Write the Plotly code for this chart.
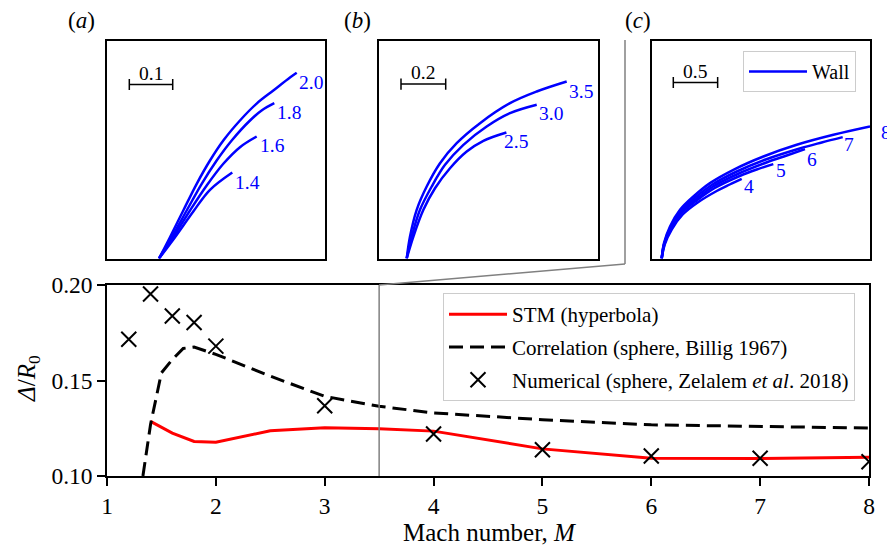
import plotly.graph_objects as go

# ---------------- data: main chart ----------------
mach_stm = [1.4, 1.6, 1.8, 2.0, 2.5, 3.0, 3.5, 4.0, 5.0, 6.0, 7.0, 8.0]
delta_stm = [0.1286, 0.1225, 0.1181, 0.1177, 0.1237, 0.1253, 0.1248, 0.1235, 0.1142, 0.1093, 0.1092, 0.1098]

mach_corr = [1.33, 1.4, 1.5, 1.6, 1.7, 1.8, 2.0, 2.5, 3.0, 3.5, 4.0, 5.0, 6.0, 7.0, 8.0]
delta_corr = [0.100, 0.127, 0.154, 0.161, 0.1668, 0.1675, 0.1637, 0.1523, 0.1417, 0.1365, 0.1330, 0.1295, 0.1268, 0.1260, 0.1251]

mach_num = [1.2, 1.4, 1.6, 1.8, 2.0, 3.0, 4.0, 5.0, 6.0, 7.0, 8.0]
delta_num = [0.1716, 0.1953, 0.1838, 0.1804, 0.1680, 0.1368, 0.1220, 0.1137, 0.1105, 0.1093, 0.1075]

x_ticks = [1, 2, 3, 4, 5, 6, 7, 8]
y_ticks = [0.10, 0.15, 0.20]
zoom_mach = 3.5

# ---------------- data: wall shapes (panel a) ----------------
wall_a_labels = ["2.0", "1.8", "1.6", "1.4"]
wall_a_x = [
    [0, 0.0253, 0.0560, 0.0869, 0.1175, 0.1482, 0.1866, 0.2251, 0.2634, 0.3018, 0.3173],
    [0, 0.0293, 0.0638, 0.0984, 0.1329, 0.1675, 0.2097, 0.2380, 0.2657],
    [0, 0.0329, 0.0714, 0.1099, 0.1482, 0.1866, 0.2251],
    [0, 0.0369, 0.0790, 0.1175, 0.1689],
]
wall_a_y = [
    [0, 0.0491, 0.1106, 0.1721, 0.2258, 0.2719, 0.3180, 0.3570, 0.3871, 0.4170, 0.4279],
    [0, 0.0491, 0.1106, 0.1721, 0.2258, 0.2719, 0.3180, 0.3420, 0.3578],
    [0, 0.0491, 0.1106, 0.1682, 0.2182, 0.2565, 0.2811],
    [0, 0.0491, 0.1083, 0.1583, 0.1982],
]
label_a_pos = [(0.3187, 0.4062), (0.2673, 0.3371), (0.2288, 0.2604), (0.1698, 0.1758)]
scale_a = 0.1

# ---------------- data: wall shapes (panel b) ----------------
wall_b_labels = ["3.5", "3.0", "2.5"]
wall_b_x = [
    [0, 0.0148, 0.0447, 0.0895, 0.1490, 0.2237, 0.3280, 0.4622, 0.5817, 0.7159],
    [0, 0.0224, 0.0595, 0.1119, 0.1714, 0.2537, 0.3579, 0.4622, 0.5817],
    [0, 0.0300, 0.0747, 0.1266, 0.1937, 0.2685, 0.3432, 0.4461],
]
wall_b_y = [
    [0, 0.0984, 0.2179, 0.3221, 0.4264, 0.5159, 0.6054, 0.6949, 0.7472, 0.7919],
    [0, 0.0984, 0.2179, 0.3221, 0.4192, 0.5087, 0.5906, 0.6501, 0.6877],
    [0, 0.0984, 0.2179, 0.3145, 0.4040, 0.4787, 0.5266, 0.5638],
]
label_b_pos = [(0.7186, 0.7472), (0.5817, 0.6506), (0.4251, 0.5235)]
scale_b = 0.2

# ---------------- data: wall shapes (panel c) ----------------
wall_c_labels = ["8", "7", "6", "5", "4"]
wall_c_x = [
    [0, 0.0259, 0.0936, 0.2063, 0.3574, 0.5445, 0.8083, 1.1466, 1.5220, 1.9357, 2.3484],
    [0, 0.0282, 0.0970, 0.2142, 0.3720, 0.5637, 0.8343, 1.1725, 1.5558, 1.8038, 2.0406],
    [0, 0.0293, 0.1015, 0.2198, 0.3833, 0.5806, 0.8568, 1.1950, 1.4092, 1.6155],
    [0, 0.0316, 0.1060, 0.2255, 0.3946, 0.5975, 0.8794, 1.0710, 1.2582],
    [0, 0.0338, 0.1127, 0.2368, 0.4059, 0.6201, 0.7666, 0.9019],
]
wall_c_y = [
    [0, 0.1736, 0.3608, 0.5490, 0.6990, 0.8501, 1.0000, 1.1499, 1.2818, 1.3946, 1.4882],
    [0, 0.1691, 0.3495, 0.5355, 0.6821, 0.8286, 0.9752, 1.1161, 1.2401, 1.3078, 1.3687],
    [0, 0.1669, 0.3439, 0.5242, 0.6652, 0.8117, 0.9526, 1.0879, 1.1612, 1.2334],
    [0, 0.1635, 0.3382, 0.5130, 0.6539, 0.7948, 0.9301, 1.0034, 1.0643],
    [0, 0.1578, 0.3269, 0.4961, 0.6313, 0.7610, 0.8343, 0.8985],
]
label_c_pos = [(2.4498, 1.4171), (2.0293, 1.2818), (1.6156, 1.1206), (1.2661, 0.9887), (0.9019, 0.8117)]
scale_c = 0.5

# ---------------- layout helpers ----------------
W, H = 887, 550
FONT = "'Liberation Serif', 'Times New Roman', 'DejaVu Serif', serif"
BLUE = "#0000ff"


def px(xp):
    return xp / W


def py(yp):
    return 1 - yp / H


panels = {
    "a": dict(l=107, r=325, t=40.7, b=258.5, ox=159.0, ppu=434.0, sb_x0=-0.0684, sb_y=0.4009),
    "b": dict(l=379.3, r=598, t=40.7, b=258.5, ox=406.7, ppu=223.5, sb_x0=-0.0255, sb_y=0.7803),
    "c": dict(l=652, r=870, t=40.7, b=258.5, ox=661.7, ppu=88.7, sb_x0=0.1308, sb_y=1.9842),
}

fig = go.Figure()

fig.add_trace(go.Scatter(x=mach_stm, y=delta_stm, mode="lines", name="STM (hyperbola)", legendgroup="g1",
                         line=dict(color="#ff0000", width=3), xaxis="x", yaxis="y"))
fig.add_trace(go.Scatter(x=mach_corr, y=delta_corr, mode="lines", name="Correlation (sphere, Billig 1967)",
                         legendgroup="g2",
                         line=dict(color="black", width=3, dash="14px,7px"), xaxis="x", yaxis="y"))
fig.add_trace(go.Scatter(x=mach_num, y=delta_num, mode="markers", legendgroup="g3",
                         name="Numerical (sphere, Zelalem <i>et al</i>. 2018)",
                         marker=dict(symbol="x-thin", size=15, line=dict(color="black", width=2), color="black"),
                         xaxis="x", yaxis="y"))

annotations = []
shapes = []

panel_data = [
    ("a", "x2", "y2", wall_a_x, wall_a_y, wall_a_labels, label_a_pos, scale_a),
    ("b", "x3", "y3", wall_b_x, wall_b_y, wall_b_labels, label_b_pos, scale_b),
    ("c", "x4", "y4", wall_c_x, wall_c_y, wall_c_labels, label_c_pos, scale_c),
]

axis_layout = {}
for key, xa, ya, xs, ys, labels, lpos, sb in panel_data:
    p = panels[key]
    ppu = p["ppu"]
    xr = [(p["l"] - p["ox"]) / ppu, (p["r"] - p["ox"]) / ppu]
    yr = [0, (p["b"] - p["t"]) / ppu]

    def to_paper(xv, yv, p=p, xr=xr, yr=yr):
        fx = (xv - xr[0]) / (xr[1] - xr[0])
        fy = (yv - yr[0]) / (yr[1] - yr[0])
        return (px(p["l"]) + fx * (px(p["r"]) - px(p["l"])),
                py(p["b"]) + fy * (py(p["t"]) - py(p["b"])))

    for i, (cx, cy) in enumerate(zip(xs, ys)):
        fig.add_trace(go.Scatter(x=cx, y=cy, mode="lines",
                                 line=dict(color=BLUE, width=2.5, shape="spline", smoothing=1.0),
                                 name="Wall", showlegend=(key == "c" and i == 0), legend="legend2",
                                 xaxis=xa, yaxis=ya, hoverinfo="skip"))
    for lab, (lx, lyv) in zip(labels, lpos):
        ax_, ay_ = to_paper(lx, lyv)
        annotations.append(dict(x=ax_, y=ay_, xref="paper", yref="paper", text=lab, showarrow=False,
                                xanchor="left", yanchor="middle", font=dict(family=FONT, size=19.5, color=BLUE)))
    fig.add_trace(go.Scatter(x=[p["sb_x0"], p["sb_x0"] + sb], y=[p["sb_y"], p["sb_y"]], mode="lines+markers",
                             line=dict(color="black", width=1.5),
                             marker=dict(symbol="line-ns", size=8, line=dict(color="black", width=1.5)),
                             showlegend=False, xaxis=xa, yaxis=ya, hoverinfo="skip"))
    annotations.append(dict(x=p["sb_x0"] + sb / 2, y=p["sb_y"], xref=xa, yref=ya, text=str(sb), showarrow=False,
                            xanchor="center", yanchor="bottom", yshift=-1,
                            font=dict(family=FONT, size=19.5, color="black")))
    n = xa[1:]
    axis_layout["xaxis" + n] = dict(domain=[px(p["l"]), px(p["r"])], range=xr, anchor=ya, automargin=False,
                                    showticklabels=False, ticks="", showgrid=False, zeroline=False,
                                    showline=True, mirror=True, linecolor="black", linewidth=1.5)
    axis_layout["yaxis" + n] = dict(domain=[py(p["b"]), py(p["t"])], range=yr, anchor=xa, automargin=False,
                                    showticklabels=False, ticks="", showgrid=False, zeroline=False,
                                    showline=True, mirror=True, linecolor="black", linewidth=1.5)

for lab, xc in [("a", 81), ("b", 357), ("c", 638)]:
    annotations.append(dict(x=px(xc), y=py(20), xref="paper", yref="paper", text="(<i>%s</i>)" % lab,
                            showarrow=False, xanchor="center", yanchor="middle",
                            font=dict(family=FONT, size=23, color="black")))

annotations.append(dict(x=px(489), y=py(532), xref="paper", yref="paper", text="Mach number, <i>M</i>",
                        showarrow=False, xanchor="center", yanchor="middle",
                        font=dict(family=FONT, size=25, color="black")))
annotations.append(dict(x=px(28), y=py(379), xref="paper", yref="paper", text="<i>Δ</i>/<i>R</i><sub>0</sub>",
                        showarrow=False, xanchor="center", yanchor="middle", textangle=-90,
                        font=dict(family=FONT, size=25, color="black")))

shapes.append(dict(type="line", xref="x", yref="y", x0=zoom_mach, x1=zoom_mach, y0=y_ticks[0], y1=y_ticks[-1],
                   line=dict(color="#808080", width=1.5)))
shapes.append(dict(type="line", xref="paper", yref="paper", x0=px(379), y0=py(285), x1=px(625), y1=py(264),
                   line=dict(color="#808080", width=1.5)))
shapes.append(dict(type="line", xref="paper", yref="paper", x0=px(625), y0=py(264), x1=px(625), y1=py(40),
                   line=dict(color="#808080", width=1.5)))

fig.update_layout(
    template="none",
    width=W, height=H, margin=dict(l=0, r=0, t=0, b=0, pad=0),
    paper_bgcolor="white", plot_bgcolor="white",
    font=dict(family=FONT, size=20, color="black"),
    xaxis=dict(domain=[px(107), px(869)], range=[1, 8], anchor="y", tickvals=x_ticks, automargin=False,
               ticks="outside", ticklen=8, tickwidth=1.5, tickcolor="black",
               showline=True, mirror=True, linecolor="black", linewidth=1.5,
               showgrid=False, zeroline=False, tickfont=dict(family=FONT, size=23.5)),
    yaxis=dict(domain=[py(476), py(285)], range=[0.10, 0.20], anchor="x", tickvals=y_ticks, tickformat=".2f",
               automargin=False,
               ticks="outside", ticklen=8, tickwidth=1.5, tickcolor="black",
               showline=True, mirror=True, linecolor="black", linewidth=1.5,
               showgrid=False, zeroline=False, tickfont=dict(family=FONT, size=23.5)),
    legend=dict(x=px(443), y=py(293), xanchor="left", yanchor="top", bgcolor="white",
                bordercolor="#cccccc", borderwidth=1, font=dict(family=FONT, size=21),
                itemwidth=58, tracegroupgap=2.5),
    legend2=dict(x=px(743), y=py(51), xanchor="left", yanchor="top", bgcolor="white",
                 bordercolor="#cccccc", borderwidth=1, font=dict(family=FONT, size=20), itemwidth=58),
    annotations=annotations, shapes=shapes, showlegend=True,
    **axis_layout,
)

fig.write_html("out.html", config={"displayModeBar": False},
               post_script="document.body.style.margin='0px';")
